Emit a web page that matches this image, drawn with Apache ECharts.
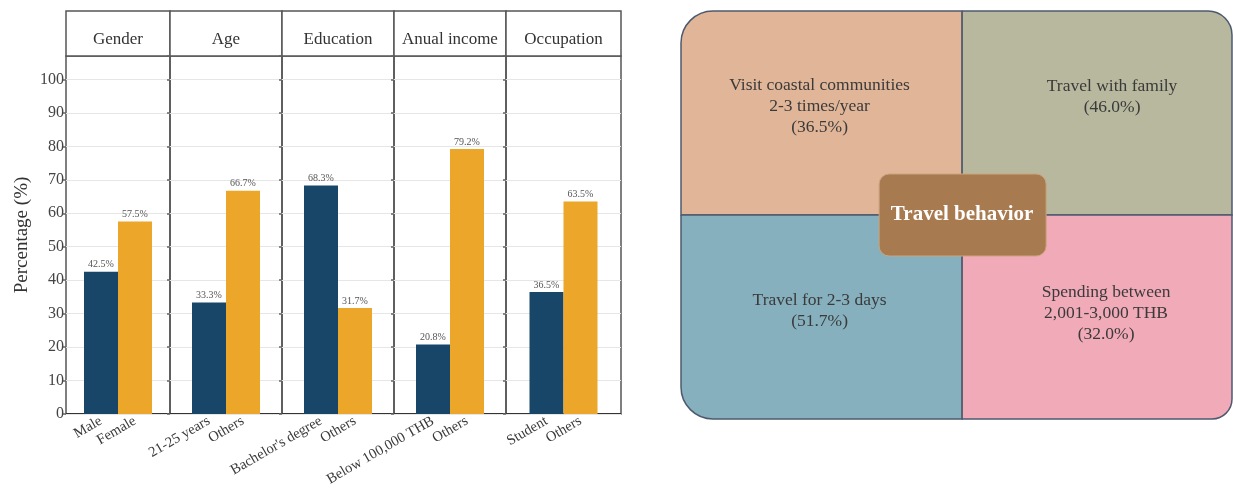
<!DOCTYPE html>
<html><head><meta charset="utf-8">
<script src="https://cdn.jsdelivr.net/npm/echarts@6/dist/echarts.min.js"></script>
<style>html,body{margin:0;padding:0;background:#fff}#c{width:1233px;height:489px}</style>
</head><body><div id="c"></div>
<script>
// ---- data ----
const facetTitles = ['Gender', 'Age', 'Education', 'Anual income', 'Occupation'];
const facetCategories = [
  ['Male', 'Female'],
  ['21-25 years', 'Others'],
  ["Bachelor's degree", 'Others'],
  ['Below 100,000 THB', 'Others'],
  ['Student', 'Others']
];
const facetValues = [
  [42.5, 57.5],
  [33.3, 66.7],
  [68.3, 31.7],
  [20.8, 79.2],
  [36.5, 63.5]
];
const yAxisTitle = 'Percentage (%)';
const quadLabels = ['Visit coastal communities\n2-3 times/year', 'Travel with family', 'Travel for 2-3 days', 'Spending between\n2,001-3,000 THB'];
const quadValues = [36.5, 46.0, 51.7, 32.0];
const centerTitle = 'Travel behavior';

// ---- layout / style ----
const FONT = '"Liberation Serif", "DejaVu Serif", serif';
const E = [66, 170, 282, 394, 506, 621];
const PLOT_TOP = 56, PLOT_H = 358, YMAX = 107;
const BLUE = '#174669', ORANGE = '#eca62a';
const quadColors = ['#e0b598', '#b8b89e', '#86b0be', '#f1aab8'];
const quadCells = [[0, 1], [1, 1], [0, 0], [1, 0]];
const quadRadii = [[32, 0, 0, 0], [0, 24, 0, 0], [0, 0, 0, 32], [0, 0, 20, 0]];
const quadOffsets = [[-2, -7], [15, -16], [-2, -6], [9, -4]];

const grid = [], xAxis = [], yAxis = [], series = [], graphic = [];
for (let i = 0; i < 5; i++) {
  const w = E[i + 1] - E[i];
  const cx = E[i] + w / 2;
  // background facet grid
  grid.push({left: E[i], top: PLOT_TOP, width: w, height: PLOT_H, show: true,
    borderColor: '#555', borderWidth: 1.5, backgroundColor: 'transparent'});
  xAxis.push({gridIndex: 2 * i, type: 'category', data: [''], show: false});
  yAxis.push({gridIndex: 2 * i, type: 'value', min: 0, max: YMAX, interval: 10,
    axisLine: {show: false},
    axisTick: {show: true, length: 3, lineStyle: {color: '#666', width: 1.5}},
    axisLabel: {show: i === 0, showMaxLabel: false, fontFamily: FONT, fontSize: 16, color: '#444', margin: 2},
    splitLine: {show: true, showMaxLine: false, lineStyle: {color: '#e6e6e6', width: 1.2}},
    name: i === 0 ? yAxisTitle : '', nameLocation: 'middle', nameGap: 34,
    nameTextStyle: {fontFamily: FONT, fontSize: 19, color: '#333'}});
  // data grid
  grid.push({left: cx - 34, top: PLOT_TOP, width: 68, height: PLOT_H});
  xAxis.push({gridIndex: 2 * i + 1, type: 'category', data: facetCategories[i],
    axisLine: {show: false}, axisTick: {show: false},
    axisLabel: {interval: 0, rotate: 30, fontFamily: FONT, fontSize: 14.5, color: '#3a3a3a', margin: 6}});
  yAxis.push({gridIndex: 2 * i + 1, type: 'value', min: 0, max: YMAX, show: false});
  series.push({type: 'bar', xAxisIndex: 2 * i + 1, yAxisIndex: 2 * i + 1,
    data: facetValues[i], barWidth: 34,
    itemStyle: {color: p => p.dataIndex === 0 ? BLUE : ORANGE},
    label: {show: true, position: 'top', distance: 2, formatter: '{c}%', fontFamily: FONT, fontSize: 10, color: '#555'}});
  // header
  graphic.push({type: 'rect', shape: {x: E[i], y: 11, width: w, height: 45},
    style: {fill: '#fff', stroke: '#555', lineWidth: 1.5}});
  graphic.push({type: 'text', x: cx, y: 40, style: {text: facetTitles[i], font: '17px ' + FONT,
    fill: '#333', textAlign: 'center', textVerticalAlign: 'middle'}});
}
// heavier bottom axis line across the facets
graphic.push({type: 'line', shape: {x1: E[0], y1: PLOT_TOP + PLOT_H, x2: E[5], y2: PLOT_TOP + PLOT_H},
  style: {stroke: '#333', lineWidth: 2}});

// right panel
const RG = grid.length;
grid.push({left: 681, top: 11, width: 551, height: 408});
xAxis.push({gridIndex: RG, type: 'value', min: 0, max: 1.96, show: false});
yAxis.push({gridIndex: RG, type: 'value', min: 0, max: 2, show: false});
series.push({type: 'custom', xAxisIndex: RG, yAxisIndex: RG,
  data: quadValues.map((v, k) => [quadCells[k][0], quadCells[k][1], v, k]),
  renderItem: function (params, api) {
    const col = api.value(0), row = api.value(1), v = api.value(2), k = api.value(3);
    const p0 = api.coord([col, row + 1]);
    const p1 = api.coord([col + 1, row]);
    const x1 = Math.min(p1[0], 1232);
    return {type: 'group', children: [
      {type: 'rect', shape: {x: p0[0], y: p0[1], width: x1 - p0[0], height: p1[1] - p0[1], r: quadRadii[k]},
        style: {fill: quadColors[k], stroke: '#4d5a6e', lineWidth: 1.5}},
      {type: 'text', x: (p0[0] + x1) / 2 + quadOffsets[k][0], y: (p0[1] + p1[1]) / 2 + quadOffsets[k][1],
        style: {text: quadLabels[k] + '\n(' + v.toFixed(1) + '%)', font: '17.5px ' + FONT, lineHeight: 21,
          fill: '#3a3a3a', textAlign: 'center', textVerticalAlign: 'middle'}}
    ]};
  }});
series.push({type: 'custom', xAxisIndex: RG, yAxisIndex: RG, data: [[1, 1]], z: 5,
  renderItem: function (params, api) {
    const c = api.coord([api.value(0), api.value(1)]);
    return {type: 'group', children: [
      {type: 'rect', shape: {x: c[0] - 83, y: c[1] - 41, width: 167, height: 82, r: 10},
        style: {fill: '#a87a4f', stroke: '#c9a47f', lineWidth: 1}},
      {type: 'text', x: c[0], y: c[1], style: {text: centerTitle, font: 'bold 21px ' + FONT,
        fill: '#fff', textAlign: 'center', textVerticalAlign: 'middle'}}
    ]};
  }});

const chart = echarts.init(document.getElementById('c'), null, {renderer: 'canvas'});
chart.setOption({backgroundColor: '#fff', animation: false, grid, xAxis, yAxis, series, graphic});
</script></body></html>
